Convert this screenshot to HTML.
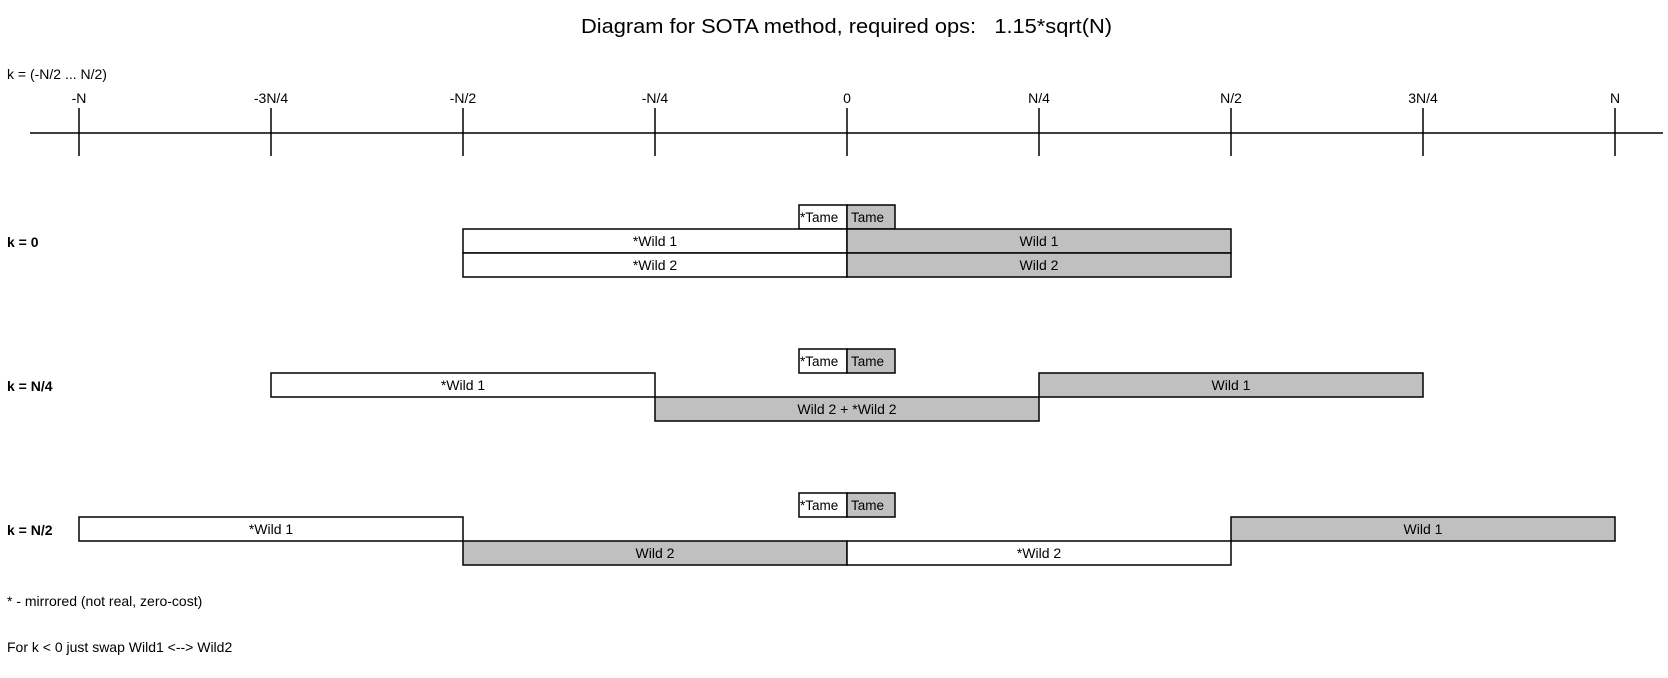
<!DOCTYPE html>
<html><head><meta charset="utf-8"><style>
html,body{margin:0;padding:0;background:#fff;}
svg{display:block;}
text{font-family:"Liberation Sans",Arial,sans-serif;fill:#000;}
.s{font-size:14px;}
.b{font-size:14px;font-weight:bold;}
rect{stroke:#000;stroke-width:1.5;}
.w{fill:#fff;} .g{fill:#c0c0c0;}
</style></head><body>
<svg width="1668" height="678" viewBox="0 0 1668 678" xmlns="http://www.w3.org/2000/svg">
<text x="581" y="33" font-size="20" textLength="531" lengthAdjust="spacingAndGlyphs" xml:space="preserve">Diagram for SOTA method, required ops:   1.15*sqrt(N)</text>
<text class="s" x="7" y="79">k = (-N/2 ... N/2)</text>
<g stroke="#000" stroke-width="1.5">
<line x1="30" y1="133" x2="1663" y2="133"/>
<line x1="79" y1="108" x2="79" y2="156"/>
<line x1="271" y1="108" x2="271" y2="156"/>
<line x1="463" y1="108" x2="463" y2="156"/>
<line x1="655" y1="108" x2="655" y2="156"/>
<line x1="847" y1="108" x2="847" y2="156"/>
<line x1="1039" y1="108" x2="1039" y2="156"/>
<line x1="1231" y1="108" x2="1231" y2="156"/>
<line x1="1423" y1="108" x2="1423" y2="156"/>
<line x1="1615" y1="108" x2="1615" y2="156"/>
</g>
<g text-anchor="middle">
<text x="79" y="103" class="s">-N</text>
<text x="271" y="103" class="s">-3N/4</text>
<text x="463" y="103" class="s">-N/2</text>
<text x="655" y="103" class="s">-N/4</text>
<text x="847" y="103" class="s">0</text>
<text x="1039" y="103" class="s">N/4</text>
<text x="1231" y="103" class="s">N/2</text>
<text x="1423" y="103" class="s">3N/4</text>
<text x="1615" y="103" class="s">N</text>
</g>

<!-- k=0 -->
<text class="b" x="7" y="247">k = 0</text>
<rect class="w" x="799" y="205" width="48" height="24"/>
<rect class="g" x="847" y="205" width="48" height="24"/>
<rect class="w" x="463" y="229" width="384" height="24"/>
<rect class="g" x="847" y="229" width="384" height="24"/>
<rect class="w" x="463" y="253" width="384" height="24"/>
<rect class="g" x="847" y="253" width="384" height="24"/>
<text x="800" y="222" font-size="13.5">*Tame</text>
<text x="851" y="222" font-size="13.5">Tame</text>
<g text-anchor="middle">
<text class="s" x="655" y="246">*Wild 1</text>
<text class="s" x="1039" y="246">Wild 1</text>
<text class="s" x="655" y="270">*Wild 2</text>
<text class="s" x="1039" y="270">Wild 2</text>
</g>

<!-- k=N/4 -->
<text class="b" x="7" y="391">k = N/4</text>
<rect class="w" x="799" y="349" width="48" height="24"/>
<rect class="g" x="847" y="349" width="48" height="24"/>
<rect class="w" x="271" y="373" width="384" height="24"/>
<rect class="g" x="1039" y="373" width="384" height="24"/>
<rect class="g" x="655" y="397" width="384" height="24"/>
<text x="800" y="366" font-size="13.5">*Tame</text>
<text x="851" y="366" font-size="13.5">Tame</text>
<g text-anchor="middle">
<text class="s" x="463" y="390">*Wild 1</text>
<text class="s" x="1231" y="390">Wild 1</text>
<text class="s" x="847" y="414">Wild 2 + *Wild 2</text>
</g>

<!-- k=N/2 -->
<text class="b" x="7" y="535">k = N/2</text>
<rect class="w" x="799" y="493" width="48" height="24"/>
<rect class="g" x="847" y="493" width="48" height="24"/>
<rect class="w" x="79" y="517" width="384" height="24"/>
<rect class="g" x="1231" y="517" width="384" height="24"/>
<rect class="g" x="463" y="541" width="384" height="24"/>
<rect class="w" x="847" y="541" width="384" height="24"/>
<text x="800" y="510" font-size="13.5">*Tame</text>
<text x="851" y="510" font-size="13.5">Tame</text>
<g text-anchor="middle">
<text class="s" x="271" y="534">*Wild 1</text>
<text class="s" x="1423" y="534">Wild 1</text>
<text class="s" x="655" y="558">Wild 2</text>
<text class="s" x="1039" y="558">*Wild 2</text>
</g>

<text class="s" x="7" y="606">* - mirrored (not real, zero-cost)</text>
<text class="s" x="7" y="652">For k &lt; 0 just swap Wild1 &lt;--&gt; Wild2</text>
</svg>
</body></html>
